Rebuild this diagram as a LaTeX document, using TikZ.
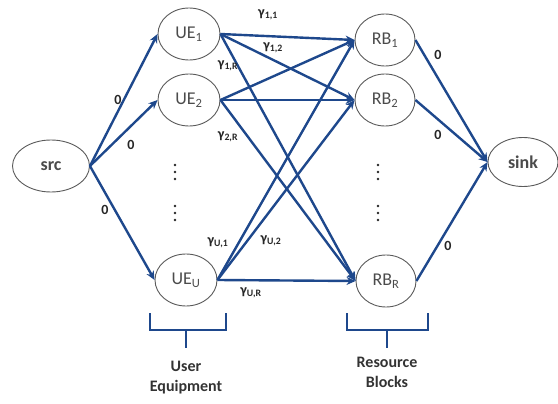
\documentclass[tikz,border=0pt]{standalone}
\usepackage{fontspec}
\setmainfont{Carlito}
\usetikzlibrary{shapes.geometric,arrows.meta}
\definecolor{edgeblue}{RGB}{30,72,140}
\definecolor{ringgray}{RGB}{90,90,90}
\definecolor{txtgray}{RGB}{75,75,75}
\tikzset{
  vert/.style={ellipse,draw=ringgray,line width=0.9pt,inner sep=0pt,minimum width=62pt,minimum height=52pt,font=\fontsize{18}{20}\selectfont,text=txtgray},
  flow/.style={draw=edgeblue,line width=2.4pt,-{Stealth[length=9pt,width=8pt]}},
  lbl/.style={font=\fontsize{14}{16}\selectfont\bfseries,text=black!85,inner sep=1pt},
  brk/.style={draw=edgeblue,line width=2.6pt},
  grouptext/.style={font=\fontsize{16}{20}\selectfont\bfseries,text=black!80,align=center},
  dot/.style={circle,fill=black!85,inner sep=0pt,minimum size=2.8pt}
}
\begin{document}
\begin{tikzpicture}[x=1pt,y=-1pt]
\useasboundingbox (0,0) rectangle (558,404);
\node[vert,minimum width=77pt,minimum height=52pt,font=\fontsize{18}{20}\selectfont\bfseries] (src) at (51,166) {src};
\node[vert] (ue1) at (189,34) {UE\textsubscript{1}};
\node[vert] (ue2) at (189,100) {UE\textsubscript{2}};
\node[vert] (ueu) at (186,280) {UE\textsubscript{U}};
\node[vert,minimum width=60pt] (rb1) at (385,40) {RB\textsubscript{1}};
\node[vert,minimum width=60pt] (rb2) at (385,100) {RB\textsubscript{2}};
\node[vert,minimum width=60pt] (rbr) at (386,281) {RB\textsubscript{R}};
\node[vert,minimum width=70pt,minimum height=49pt,font=\fontsize{18}{20}\selectfont\bfseries] (sink) at (523,162) {sink};
% dots
\foreach \x in {175,378}{
  \foreach \y in {165,172,179,206,213,220}{
    \node[dot] at (\x,\y) {};
  }
}
% src edges
\draw[flow] (src.east) -- (ue1.west);
\draw[flow] (src.east) -- (ue2.west);
\draw[flow] (src.east) -- (ueu.west);
\node[lbl] (l0a) at (118,100) {0};
\node[lbl] (l0b) at (131,145) {0};
\node[lbl] (l0c) at (105,210) {0};
% UE -> RB
\foreach \u in {ue1,ue2,ueu}{
  \foreach \r in {rb1,rb2,rbr}{
    \draw[flow] (\u.east) -- (\r.west);
  }
}
\node[lbl] (g11) at (268,15) {γ\textsubscript{1,1}};
\node[lbl] (g12) at (273,48) {γ\textsubscript{1,2}};
\node[lbl] (g1r) at (228,66) {γ\textsubscript{1,R}};
\node[lbl] (g2r) at (228,137) {γ\textsubscript{2,R}};
\node[lbl] (gu1) at (218,243) {γ\textsubscript{U,1}};
\node[lbl] (gu2) at (271,241) {γ\textsubscript{U,2}};
\node[lbl] (gur) at (251,293) {γ\textsubscript{U,R}};
% RB -> sink
\draw[flow] (rb1.east) -- (sink.west);
\draw[flow] (rb2.east) -- (sink.west);
\draw[flow] (rbr.east) -- (sink.west);
\node[lbl] (s0a) at (438,55) {0};
\node[lbl] (s0b) at (438,135) {0};
\node[lbl] (s0c) at (448,246) {0};
% brackets
\draw[brk] (150,313) -- (150,330) -- (226,330) -- (226,313);
\draw[brk] (186,330) -- (186,348);
\draw[brk] (347,313) -- (347,330) -- (428,330) -- (428,313);
\draw[brk] (387,330) -- (387,348);
\node[grouptext] (cue) at (186,378) {User\\Equipment};
\node[grouptext] (crb) at (387,372) {Resource\\Blocks};
\end{tikzpicture}
\end{document}
